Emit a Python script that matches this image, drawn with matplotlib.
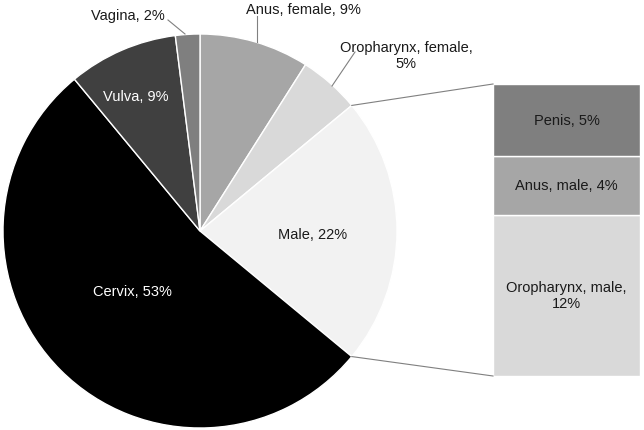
import numpy as np
import matplotlib.pyplot as plt

plt.rcParams['font.family'] = ['Liberation Sans', 'DejaVu Sans']

# main pie (clockwise from 12 o'clock)
pie_labels = ["Anus, female, 9%", "Oropharynx, female,\n5%", "Male, 22%",
              "Cervix, 53%", "Vulva, 9%", "Vagina, 2%"]
pie_values = [9, 5, 22, 53, 9, 2]
pie_colors = ["#a6a6a6", "#d9d9d9", "#f2f2f2", "#000000", "#404040", "#7f7f7f"]

# bar of the "Male" slice (top to bottom)
bar_labels = ["Penis, 5%", "Anus, male, 4%", "Oropharynx, male,\n12%"]
bar_values = [5.4, 4.4, 12.1]
bar_colors = ["#7f7f7f", "#a6a6a6", "#d9d9d9"]

W, H = 644, 431
fig = plt.figure(figsize=(W / 100, H / 100), dpi=100)
ax = fig.add_axes([0, 0, 1, 1])

def P(x, y):
    # pixel position (top-left origin) -> axes data
    return x, H - y

cx, cy = P(200, 232)
R = 197
wedges, _ = ax.pie(pie_values, colors=pie_colors, startangle=90, counterclock=False,
                   center=(cx, cy), radius=R, frame=True,
                   wedgeprops=dict(edgecolor='white', linewidth=1))
ax.set_xlim(0, W)
ax.set_ylim(0, H)
ax.set_aspect('equal')
ax.axis('off')

fs = 10.5

# stacked bar
bx0, bx1 = 493, 640
by_top, by_bot = P(0, 85)[1], P(0, 377)[1]
scale = (by_top - by_bot) / sum(bar_values)
bottom = by_bot
for lab, v, c in zip(bar_labels[::-1], bar_values[::-1], bar_colors[::-1]):
    ax.bar(bx0, v * scale, width=bx1 - bx0, bottom=bottom, align='edge',
           color=c, edgecolor='white', linewidth=1)
    ax.text((bx0 + bx1) / 2, bottom + v * scale / 2, lab, ha='center', va='center',
            fontsize=fs, color='#1a1a1a', linespacing=1.2)
    bottom += v * scale

# connector lines from the Male wedge to the bar
male = wedges[2]
for ang, yb in [(male.theta2, by_top), (male.theta1, by_bot)]:
    a = np.deg2rad(ang)
    ax.plot([cx + R * np.cos(a), bx0], [cy + R * np.sin(a), yb],
            color='#808080', linewidth=0.8)

# labels
txt = dict(fontsize=fs, ha='center', va='center', linespacing=1.2)
ax.text(*P(303, 10), pie_labels[0], color='#1a1a1a', **txt)
ax.text(*P(406, 56), pie_labels[1], color='#1a1a1a', **txt)
ax.text(*P(313, 235), pie_labels[2], color='#1a1a1a', **txt)
ax.text(*P(132, 292), pie_labels[3], color='white', **txt)
ax.text(*P(136, 97), pie_labels[4], color='white', **txt)
ax.text(*P(128, 16), pie_labels[5], color='#1a1a1a', **txt)

# leader lines
for (x0, y0), (x1, y1) in [((257, 17), (257, 43)),
                           ((355, 53), (332, 87)),
                           ((168, 21), (185, 35))]:
    ax.plot(*zip(P(x0, y0), P(x1, y1)), color='#808080', linewidth=0.8)

fig.savefig("out.png", dpi=100)
